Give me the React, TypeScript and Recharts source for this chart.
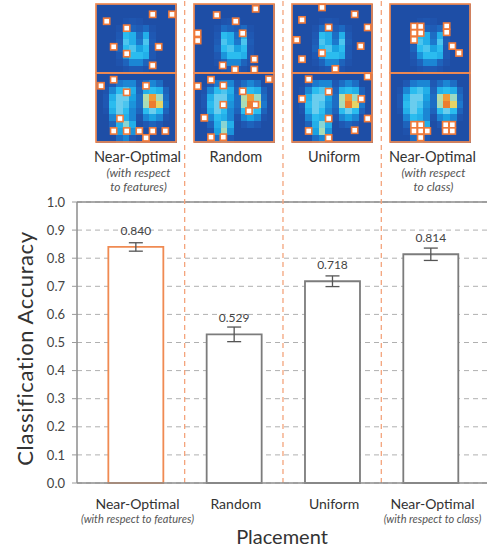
import React from 'react';
import {
  ComposedChart,
  Bar,
  Cell,
  XAxis,
  YAxis,
  CartesianGrid,
  ReferenceLine,
  ErrorBar,
  LabelList,
  Label,
  ScatterChart,
  Scatter,
} from 'recharts';

// ---- data -------------------------------------------------------------
const CATEGORIES = ['Near-Optimal', 'Random', 'Uniform', 'Near-Optimal'];
const SUBTITLES = ['(with respect to features)', '', '', '(with respect to class)'];
const CAPTION_NOTES = [['(with respect', 'to features)'], [], [], ['(with respect', 'to class)']];
const ACCURACY = [0.84, 0.529, 0.718, 0.814];
const ERRORS = [0.015, 0.026, 0.019, 0.022];
const Y_TICKS = [0, 0.1, 0.2, 0.3, 0.4, 0.5, 0.6, 0.7, 0.8, 0.9, 1.0];
const SEPARATORS = [0.5, 1.5, 2.5];
const HIGHLIGHT = 0;

// Mean activation maps (12 columns x 10 rows each)
const HEAT_TOP = [
  [0, 0, 0, 0, 0, 0, 0, 0, 0, 0, 0, 0],
  [0, 0, 0, 0, 0, 0, 0, 0, 0, 0, 0, 0],
  [0, 0, 0, 0, 0.05, 0.08, 0.05, 0, 0, 0, 0, 0],
  [0, 0, 0, 0.05, 0.2, 0.15, 0.12, 0.18, 0.05, 0, 0, 0],
  [0, 0, 0, 0.1, 0.5, 0.45, 0.2, 0.45, 0.1, 0, 0, 0],
  [0, 0, 0, 0.12, 0.55, 0.45, 0.25, 0.55, 0.12, 0, 0, 0],
  [0, 0, 0, 0.15, 0.5, 0.55, 0.4, 0.5, 0.1, 0, 0, 0],
  [0, 0, 0, 0.1, 0.35, 0.5, 0.5, 0.45, 0.1, 0, 0, 0],
  [0, 0, 0, 0.05, 0.15, 0.3, 0.3, 0.15, 0.05, 0, 0, 0],
  [0, 0, 0, 0, 0.05, 0.1, 0.1, 0.05, 0, 0, 0, 0],
];
const HEAT_BOTTOM = [
  [0, 0, 0, 0, 0, 0, 0, 0, 0, 0, 0, 0],
  [0, 0, 0.1, 0.25, 0.3, 0.3, 0.1, 0.2, 0.3, 0.2, 0, 0],
  [0, 0.05, 0.3, 0.5, 0.55, 0.45, 0.15, 0.45, 0.5, 0.45, 0.15, 0],
  [0, 0.1, 0.45, 0.6, 0.6, 0.4, 0.2, 0.72, 0.92, 0.68, 0.2, 0],
  [0, 0.1, 0.5, 0.6, 0.55, 0.35, 0.2, 0.7, 0.97, 0.82, 0.25, 0],
  [0, 0.05, 0.45, 0.6, 0.5, 0.3, 0.15, 0.5, 0.6, 0.5, 0.15, 0],
  [0, 0, 0.3, 0.5, 0.45, 0.3, 0.05, 0.3, 0.4, 0.3, 0.05, 0],
  [0, 0, 0.15, 0.45, 0.65, 0.45, 0, 0.1, 0.15, 0.1, 0, 0],
  [0, 0, 0.05, 0.4, 0.7, 0.35, 0, 0, 0, 0, 0, 0],
  [0, 0, 0, 0.2, 0.3, 0.1, 0, 0, 0, 0, 0, 0],
];

// Sensor placements per strategy, [column, row] centres on a 12 x 20 grid
const SENSORS_FEATURES = [
  [1.6, 2.5], [8.5, 1.5], [11.4, 1.5], [4.6, 3.5], [2.65, 6.2], [9.4, 6.2], [4.6, 7.2], [8.5, 8.9],
  [0.75, 11.85], [2.65, 10.97], [7.5, 11.85], [4.6, 12.8], [3.6, 16.6], [2.65, 18.4], [4.6, 18.4],
  [6.5, 18.4], [8.5, 18.4], [10.4, 18.4], [7.5, 19.4],
];
const SENSORS_RANDOM = [
  [3.4, 1.6], [9.25, 0.7], [6.25, 2.5], [0.55, 4.25], [0.55, 5.3], [7.3, 4.25], [9.05, 8.0],
  [4.3, 8.9], [6.15, 9.5], [9.05, 9.5],
  [2.55, 10.97], [11.25, 10.9], [0.55, 11.9], [4.4, 11.8], [7.3, 12.65], [4.4, 14.6], [8.25, 15.5],
  [9.2, 14.6], [1.55, 16.5], [2.55, 19.3], [4.4, 19.3],
];
const SENSORS_UNIFORM = [
  [4.5, 0.5], [9.4, 1.5], [1.5, 2.3], [5.5, 3.4], [11.35, 3.4], [0.7, 5.2], [10.3, 6.1], [4.5, 7.1],
  [1.5, 8.0], [6.5, 9.4],
  [2.5, 10.9], [11.35, 10.5], [5.5, 12.7], [1.5, 13.75], [10.4, 13.75], [5.5, 16.6], [11.35, 16.6],
  [2.5, 18.4], [9.4, 18.3], [5.5, 19.4],
];
const SENSORS_CLASS = [
  [3.6, 3.25], [4.6, 3.25], [3.6, 4.2], [4.6, 4.2], [3.6, 5.2], [8.5, 3.2], [8.5, 4.1], [9.35, 6.1],
  [10.35, 7.1],
  [3.6, 17.5], [4.6, 17.5], [3.6, 18.4], [4.6, 18.4], [5.6, 18.4], [4.6, 19.35],
  [8.35, 17.5], [9.35, 17.5], [8.35, 18.4], [9.35, 18.4],
];
const SENSOR_SETS = [SENSORS_FEATURES, SENSORS_RANDOM, SENSORS_UNIFORM, SENSORS_CLASS];
// centres of the two map halves on the 12 x 20 grid
const MAP_HALVES = [{ x: 6, y: 5 }, { x: 6, y: 15 }];

// ---- styling / layout -------------------------------------------------
const FONT = "Lato, 'Open Sans', sans-serif";
const ORANGE = '#f08a52';
const BAR_GRAY = '#7c7c7c';
const AXIS_GRAY = '#8c8c8c';
const SEP_ORANGE = '#f4a47c';
const W = 488;
const H = 550;
const PLOT_LEFT = 77;
const PLOT_TOP = 202;
const PLOT_W = 410;
const X_DOMAIN: [number, number] = [-0.595, 3.575];
const GRID_COLS = 12;
const GRID_ROWS = 20;
const PANEL_W = 80;
const PANEL_H = 138;
const PANEL_TOP = 4;
const PAD = 5;

const HEAT_STOPS: [number, string][] = [
  [0, '#1e4ea6'],
  [0.1, '#1f58b3'],
  [0.25, '#1c78cd'],
  [0.4, '#1aa2e2'],
  [0.5, '#2bbcef'],
  [0.6, '#6acdee'],
  [0.7, '#a8dcb8'],
  [0.8, '#e2e070'],
  [0.9, '#f2a63c'],
  [1, '#ea6a2a'],
];

const hexToRgb = (h: string) => [1, 3, 5].map((i) => parseInt(h.slice(i, i + 2), 16));
const heatColor = (v: number) => {
  for (let i = 1; i < HEAT_STOPS.length; i++) {
    const [v1, c1] = HEAT_STOPS[i];
    const [v0, c0] = HEAT_STOPS[i - 1];
    if (v <= v1) {
      const t = (v - v0) / (v1 - v0);
      const a = hexToRgb(c0);
      const b = hexToRgb(c1);
      const m = a.map((x, k) => Math.round(x + (b[k] - x) * t));
      return `rgb(${m[0]},${m[1]},${m[2]})`;
    }
  }
  return HEAT_STOPS[HEAT_STOPS.length - 1][1];
};

const heatCells = [
  ...HEAT_TOP.flatMap((row, r) => row.map((v, c) => ({ x: c + 0.5, y: r + 0.5, v }))),
  ...HEAT_BOTTOM.flatMap((row, r) => row.map((v, c) => ({ x: c + 0.5, y: r + 10.5, v }))),
];

const CELL_W = PANEL_W / GRID_COLS;
const CELL_H = PANEL_H / GRID_ROWS;

const HeatCell = (props: any) => {
  const { cx, cy, payload } = props;
  return (
    <rect
      x={cx - CELL_W / 2}
      y={cy - CELL_H / 2}
      width={CELL_W + 0.5}
      height={CELL_H + 0.5}
      fill={heatColor(payload.v)}
      shapeRendering="crispEdges"
    />
  );
};

const MapFrame = (props: any) => {
  const { cx, cy } = props;
  return (
    <rect
      x={cx - PANEL_W / 2}
      y={cy - PANEL_H / 4}
      width={PANEL_W}
      height={PANEL_H / 2}
      fill="none"
      stroke={ORANGE}
      strokeWidth={1.7}
    />
  );
};

const SensorMark = (props: any) => {
  const { cx, cy } = props;
  const s = 6.2;
  return <rect x={cx - s / 2} y={cy - s / 2} width={s} height={s} fill="#ffffff" stroke="#f07a3a" strokeWidth={1.6} />;
};

const categoryCenter = (i: number) =>
  PLOT_LEFT + ((i - X_DOMAIN[0]) / (X_DOMAIN[1] - X_DOMAIN[0])) * PLOT_W;

const SensorPanel = ({ index }: { index: number }) => {
  const sensors = SENSOR_SETS[index].map(([x, y]) => ({ x, y }));
  return (
    <div
      style={{
        position: 'absolute',
        left: categoryCenter(index) - PANEL_W / 2 - PAD,
        top: PANEL_TOP - PAD,
      }}
    >
      <ScatterChart
        width={PANEL_W + 2 * PAD}
        height={PANEL_H + 2 * PAD}
        margin={{ top: PAD, right: PAD, bottom: PAD, left: PAD }}
      >
        <XAxis type="number" dataKey="x" domain={[0, GRID_COLS]} hide />
        <YAxis type="number" dataKey="y" domain={[0, GRID_ROWS]} reversed hide />
        <Scatter data={heatCells} shape={<HeatCell />} isAnimationActive={false} />
        <Scatter data={MAP_HALVES} shape={<MapFrame />} isAnimationActive={false} />
        <Scatter data={sensors} shape={<SensorMark />} isAnimationActive={false} />
      </ScatterChart>
    </div>
  );
};

const chartData = CATEGORIES.map((name, i) => ({
  pos: i,
  name,
  sub: SUBTITLES[i],
  acc: ACCURACY[i],
  err: ERRORS[i],
}));

const CategoryTick = (props: any) => {
  const { x, y, payload } = props;
  const d = chartData[payload.value];
  if (!d) return null;
  return (
    <g>
      <text x={x + 2} y={y + 26} textAnchor="middle" fontSize={14} fill="#333" fontFamily={FONT}>
        {d.name}
      </text>
      {d.sub ? (
        <text x={x + 2} y={y + 40} textAnchor="middle" fontSize={11} fontStyle="italic" fill="#555" fontFamily={FONT}>
          {d.sub}
        </text>
      ) : null}
    </g>
  );
};

export default function App() {
  return (
    <div style={{ position: 'absolute', left: 0, top: 0, width: W, height: H, background: '#fff', fontFamily: FONT }}>
      <ComposedChart
        width={W}
        height={H}
        data={chartData}
        margin={{ top: PLOT_TOP, right: W - PLOT_LEFT - PLOT_W, bottom: 0, left: 0 }}
      >
        <CartesianGrid vertical={false} strokeDasharray="5 4" stroke="#b0b0b0" />
        <XAxis
          dataKey="pos"
          type="number"
          domain={X_DOMAIN}
          ticks={[0, 1, 2, 3]}
          interval={0}
          tick={<CategoryTick />}
          tickLine={false}
          tickSize={0}
          tickMargin={0}
          axisLine={{ stroke: AXIS_GRAY, strokeWidth: 1.5 }}
          height={67}
        >
          <Label
            content={(p: any) => {
              const vb = p.viewBox || { x: PLOT_LEFT, y: 483, width: PLOT_W, height: 67 };
              return (
                <text x={vb.x + vb.width / 2} y={vb.y + 61} textAnchor="middle" fontSize={20} fill="#333" fontFamily={FONT}>
                  Placement
                </text>
              );
            }}
          />
        </XAxis>
        <YAxis
          type="number"
          domain={[0, 1]}
          ticks={Y_TICKS}
          interval={0}
          width={PLOT_LEFT}
          tickFormatter={(v: number) => v.toFixed(1)}
          tick={{ fill: '#444', fontSize: 13, fontFamily: FONT }}
          tickSize={5}
          tickMargin={7}
          tickLine={{ stroke: '#9a9a9a' }}
          axisLine={{ stroke: AXIS_GRAY, strokeWidth: 1.5 }}
        >
          <Label
            content={(p: any) => {
              const vb = p.viewBox || { x: 0, y: PLOT_TOP, width: PLOT_LEFT, height: 281 };
              const cx = vb.x + 33;
              const cy = vb.y + vb.height / 2 + 6;
              return (
                <text
                  x={cx}
                  y={cy}
                  transform={`rotate(-90, ${cx}, ${cy})`}
                  textAnchor="middle"
                  fontSize={22}
                  letterSpacing={0.6}
                  fill="#333"
                  fontFamily={FONT}
                >
                  Classification Accuracy
                </text>
              );
            }}
          />
        </YAxis>
        <ReferenceLine y={1} stroke={AXIS_GRAY} strokeWidth={1.5} />
        {SEPARATORS.map((s) => (
          <ReferenceLine
            key={s}
            segment={[{ x: s, y: 0 }, { x: s, y: 1.73 }]}
            stroke={SEP_ORANGE}
            strokeWidth={1.3}
            strokeDasharray="5 4"
            ifOverflow="visible"
          />
        ))}
        <Bar dataKey="acc" fill="#ffffff" strokeWidth={1.8} barSize={55} isAnimationActive={false}>
          {chartData.map((d, i) => (
            <Cell key={i} stroke={i === HIGHLIGHT ? ORANGE : BAR_GRAY} />
          ))}
          <ErrorBar dataKey="err" width={7} stroke="#555" strokeWidth={1.3} direction="y" />
          <LabelList
            dataKey="acc"
            position="top"
            offset={12}
            formatter={(v: number) => v.toFixed(3)}
            style={{ fill: '#444', fontSize: 12, fontFamily: FONT }}
          />
        </Bar>
      </ComposedChart>

      {CATEGORIES.map((_, i) => (
        <SensorPanel key={i} index={i} />
      ))}

      <svg width={W} height={200} style={{ position: 'absolute', left: 0, top: 0, pointerEvents: 'none' }}>
        {CATEGORIES.map((name, i) => (
          <g key={i}>
            <text x={categoryCenter(i) + 2} y={162} textAnchor="middle" fontSize={14.5} fill="#333" fontFamily={FONT}>
              {name}
            </text>
            {CAPTION_NOTES[i].map((line, k) => (
              <text
                key={k}
                x={categoryCenter(i) + 3}
                y={177 + k * 14}
                textAnchor="middle"
                fontSize={12}
                fontStyle="italic"
                fill="#555"
                fontFamily={FONT}
              >
                {line}
              </text>
            ))}
          </g>
        ))}
      </svg>
    </div>
  );
}
